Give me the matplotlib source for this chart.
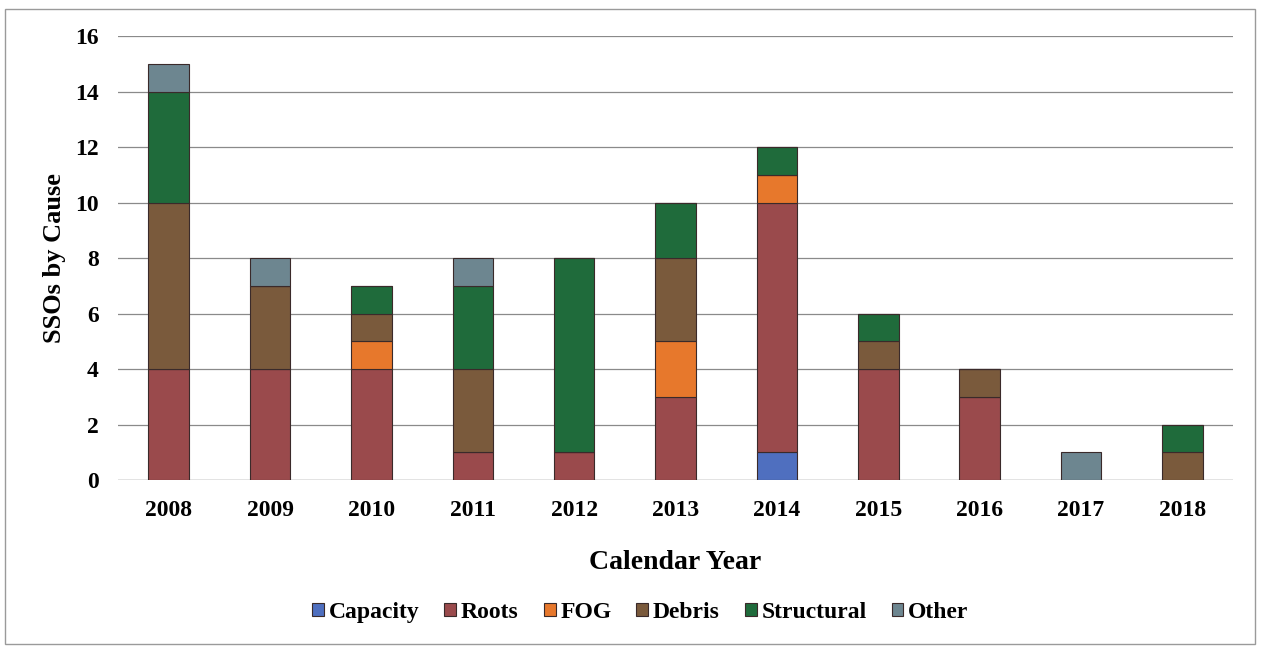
import numpy as np
import matplotlib
matplotlib.use('Agg')
import matplotlib.pyplot as plt
from matplotlib.patches import Rectangle

# SSO counts per calendar year, split by cause
years      = ['2008', '2009', '2010', '2011', '2012', '2013', '2014', '2015', '2016', '2017', '2018']
capacity   = [0, 0, 0, 0, 0, 0, 1, 0, 0, 0, 0]
roots      = [4, 4, 4, 1, 1, 3, 9, 4, 3, 0, 0]
fog        = [0, 0, 1, 0, 0, 2, 1, 0, 0, 0, 0]
debris     = [6, 3, 1, 3, 0, 3, 0, 1, 1, 0, 1]
structural = [4, 0, 1, 3, 7, 2, 1, 1, 0, 0, 1]
other      = [1, 1, 0, 1, 0, 0, 0, 0, 0, 1, 0]

causes = ['Capacity', 'Roots', 'FOG', 'Debris', 'Structural', 'Other']
series = [capacity, roots, fog, debris, structural, other]
colors = ['#4f6fbf', '#9a4a4c', '#e7782c', '#7a5a3c', '#1f6b3b', '#6d8690']

plt.rcParams['font.family'] = ['Liberation Serif', 'DejaVu Serif']
plt.rcParams['font.weight'] = 'bold'

fig = plt.figure(figsize=(12.63, 6.48), dpi=100)
ax = fig.add_axes([0.0934, 0.259, 0.883, 0.685])

x = np.arange(len(years))
bottom = np.zeros(len(years))
for name, vals, col in zip(causes, series, colors):
    vals = np.array(vals, dtype=float)
    ax.bar(x, vals, width=0.40, bottom=bottom, color=col, label=name,
           edgecolor='#3a2a2a', linewidth=0.8, zorder=3)
    bottom += vals

ax.set_xlim(-0.5, len(years) - 0.5)
ax.set_ylim(0, 16)
ax.set_yticks(range(0, 17, 2))
ax.set_xticks(x)
ax.set_xticklabels(years)
ax.tick_params(axis='both', length=0, labelsize=17)
ax.tick_params(axis='x', pad=14)
ax.tick_params(axis='y', pad=14)
for lbl in ax.get_xticklabels() + ax.get_yticklabels():
    lbl.set_fontweight('bold')
ax.grid(axis='y', color='#8a8a8a', lw=0.9, zorder=0)
for s in ax.spines.values():
    s.set_visible(False)
ax.axhline(0, color='#8a8a8a', lw=0.9, zorder=1)

ax.set_xlabel('Calendar Year', fontsize=20, fontweight='bold', labelpad=21)
ax.set_ylabel('SSOs by Cause', fontsize=19, fontweight='bold', labelpad=6)

leg = fig.legend(loc='center', bbox_to_anchor=(0.507, 0.055), ncol=6, frameon=False,
                 prop={'size': 17, 'weight': 'bold'}, handlelength=0.5, handleheight=0.5,
                 handletextpad=0.2, columnspacing=1.06)

# thin border round the whole chart
fig.patches.append(Rectangle((0.004, 0.006), 0.99, 0.98, transform=fig.transFigure,
                             fill=False, edgecolor='#9a9a9a', lw=1.0))

fig.savefig('out.png', dpi=100)
